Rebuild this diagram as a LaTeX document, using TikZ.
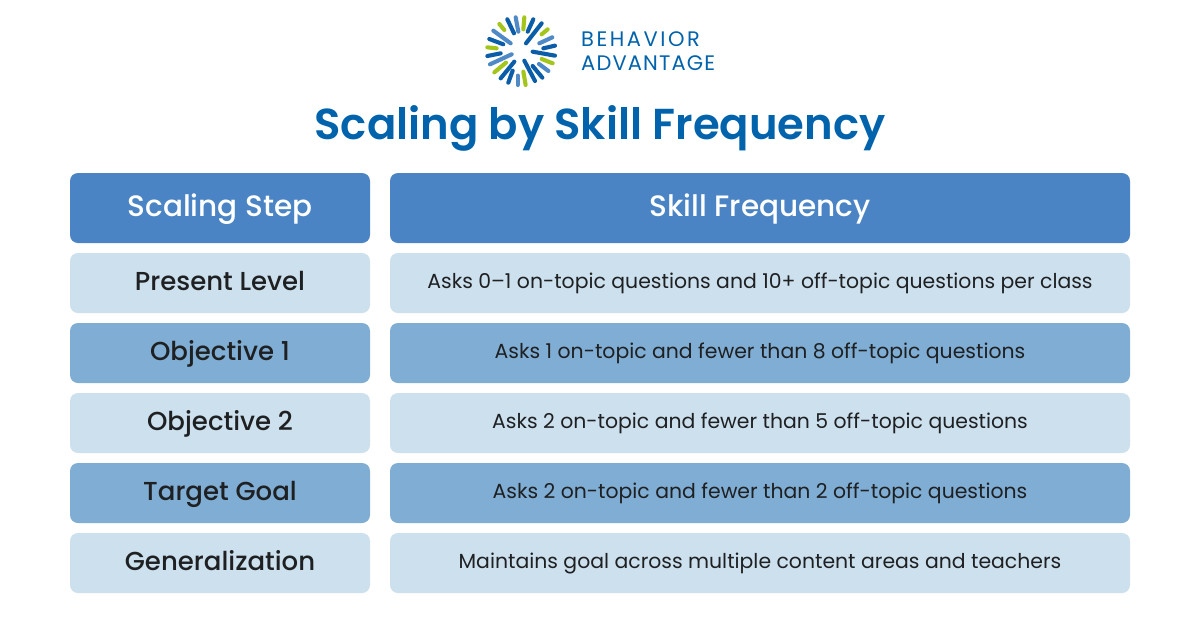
\documentclass[tikz,border=0pt]{standalone}
\usepackage{fontspec}
\setmainfont{Poppins}
\newfontfamily\semi{Poppins SemiBold}
\newfontfamily\medi{Poppins Medium}
\newfontfamily\litea[LetterSpace=12]{Poppins}
\newfontfamily\liteb[LetterSpace=5.5]{Poppins}
\definecolor{hdr}{HTML}{4A84C4}
\definecolor{pale}{HTML}{CDE0EE}
\definecolor{midb}{HTML}{7FADD3}
\definecolor{ink}{HTML}{1E2022}
\definecolor{brand}{HTML}{0063AC}
\definecolor{ldark}{HTML}{0B5DA8}
\definecolor{lmid}{HTML}{4F8AC6}
\definecolor{lgreen}{HTML}{A4C51C}
\tikzset{
 x=1pt,y=-1pt,
 cell/.style={rectangle,rounded corners=8pt,minimum height=#1,inner sep=0pt,anchor=center},
 hcell/.style={cell=70pt,fill=hdr,text=white,text height=17pt,text depth=0pt,font=\medi\fontsize{29.5}{32}\selectfont},
 stepw/.style={minimum width=300pt},
 freqw/.style={minimum width=740pt},
 row/.style={cell=60pt},
 rowa/.style={row,fill=pale},
 rowb/.style={row,fill=midb},
 steplab/.style={text=ink,text height=14pt,text depth=0pt,font=\medi\fontsize{26}{28}\selectfont},
 freqlab/.style={text=ink,text height=10pt,text depth=0pt,font=\fontsize{20.4}{24}\selectfont},
 ray/.style={line width=4.1pt,line cap=round},
 logotext/.style={text=brand,anchor=base west,inner sep=0pt},
}
\begin{document}
\begin{tikzpicture}
\useasboundingbox (0,0) rectangle (1200,630);
\fill[white] (0,0) rectangle (1200,630);
\begin{scope}[shift={(480,10)},x=0.3333pt,y=-0.3333pt]
\foreach \c/\a/\b/\p/\q in {
 lmid/107/22/115/65, lgreen/133/22/130/58, ldark/160/28/143/65, ldark/185/40/138/100,
 lgreen/203/58/185/73, lmid/217/82/178/100, ldark/225/107/190/115, ldark/225/137/158/125,
 lgreen/218/160/185/147, lmid/205/183/177/162, ldark/187/203/158/168, ldark/165/213/133/152,
 lgreen/137/225/130/185, lmid/113/225/113/197, ldark/85/218/98/182, ldark/62/205/103/155,
 lgreen/43/187/78/158, lmid/30/163/95/133, ldark/22/138/62/130, lgreen/22/112/50/115,
 ldark/28/87/70/103, lmid/40/62/92/100, lgreen/58/42/73/60, ldark/82/28/102/70}
 \draw[ray,draw=\c] (\a,\b) -- (\p,\q);
\end{scope}
\node[logotext,font=\litea\fontsize{21}{24}\selectfont] (logoa) at (581,46.7) {BEHAVIOR};
\node[logotext,font=\liteb\fontsize{21}{24}\selectfont] (logob) at (581,70.7) {ADVANTAGE};
\node[text=brand,anchor=base,inner sep=0pt,font=\semi\fontsize{43.3}{50}\selectfont] (title) at (600,139) {Scaling by Skill Frequency};
\node[hcell,stepw] (h1) at (220,208) {Scaling Step};
\node[hcell,freqw] (h2) at (760,208) {Skill Frequency};
\node[rowa,stepw,steplab] (s1) at (220,283) {Present Level};
\node[rowa,freqw,freqlab] (f1) at (760,283) {Asks 0–1 on-topic questions and 10+ off-topic questions per class};
\node[rowb,stepw,steplab] (s2) at (220,353) {Objective 1};
\node[rowb,freqw,freqlab] (f2) at (760,353) {Asks 1 on-topic and fewer than 8 off-topic questions};
\node[rowa,stepw,steplab] (s3) at (220,423) {Objective 2};
\node[rowa,freqw,freqlab] (f3) at (760,423) {Asks 2 on-topic and fewer than 5 off-topic questions};
\node[rowb,stepw,steplab] (s4) at (220,493) {Target Goal};
\node[rowb,freqw,freqlab] (f4) at (760,493) {Asks 2 on-topic and fewer than 2 off-topic questions};
\node[rowa,stepw,steplab] (s5) at (220,563) {Generalization};
\node[rowa,freqw,freqlab] (f5) at (760,563) {Maintains goal across multiple content areas and teachers};
\end{tikzpicture}
\end{document}
